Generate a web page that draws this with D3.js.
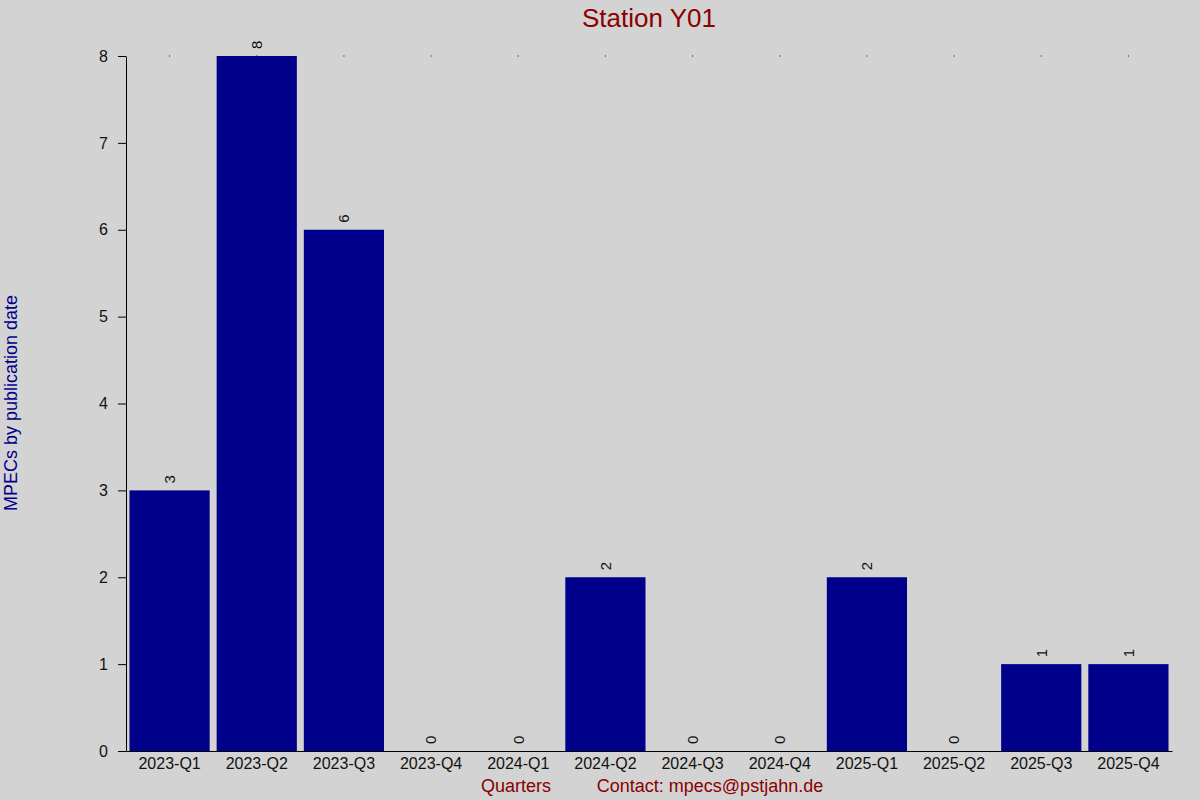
<!DOCTYPE html>
<html>
<head>
<meta charset="utf-8">
<script src="https://cdn.jsdelivr.net/npm/d3@7"></script>
<style>
  body { margin: 0; background: #d3d3d3; }
  text { font-family: "Liberation Sans", Arial, sans-serif; }
</style>
</head>
<body>
<div id="chart"></div>
<script>
const quarters = ["2023-Q1", "2023-Q2", "2023-Q3", "2023-Q4", "2024-Q1", "2024-Q2",
                  "2024-Q3", "2024-Q4", "2025-Q1", "2025-Q2", "2025-Q3", "2025-Q4"];
const counts = [3, 8, 6, 0, 0, 2, 0, 0, 2, 0, 1, 1];
const yTicks = [0, 1, 2, 3, 4, 5, 6, 7, 8];

const W = 1200, H = 800;
const svg = d3.select("#chart")
    .append("svg")
    .attr("width", W)
    .attr("height", H);

svg.append("rect")
    .attr("width", W)
    .attr("height", H)
    .attr("fill", "#d3d3d3");

const x = d3.scaleBand()
    .domain(quarters)
    .range([126, 1172])
    .paddingInner(0.08)
    .paddingOuter(0.04);

const y = d3.scaleLinear()
    .domain([0, 8])
    .range([751, 56]);

// bars
svg.selectAll(".bar")
    .data(quarters)
    .enter()
    .append("rect")
    .attr("class", "bar")
    .attr("x", d => x(d))
    .attr("width", x.bandwidth())
    .attr("y", (d, i) => y(counts[i]))
    .attr("height", (d, i) => y(0) - y(counts[i]))
    .attr("fill", "#00008b");

// value labels, rotated
svg.selectAll(".val")
    .data(quarters)
    .enter()
    .append("text")
    .attr("class", "val")
    .attr("transform", (d, i) => `translate(${x(d) + x.bandwidth() / 2}, ${y(counts[i]) - 7}) rotate(-90)`)
    .attr("dy", "0.35em")
    .attr("text-anchor", "start")
    .style("font-size", "15px")
    .attr("fill", "#111")
    .text((d, i) => counts[i]);

// little dots on the top edge at band centres
svg.selectAll(".dot")
    .data(quarters)
    .enter()
    .append("rect")
    .attr("x", d => x(d) + x.bandwidth() / 2 - 0.5)
    .attr("y", 55.5)
    .attr("width", 1)
    .attr("height", 1)
    .attr("fill", "#000");

// y axis
const yAxis = svg.append("g")
    .attr("transform", "translate(126,0)")
    .call(d3.axisLeft(y).tickValues(yTicks).tickSize(8).tickSizeOuter(0).tickPadding(10));
yAxis.select(".domain").attr("stroke", "#000");
yAxis.selectAll("text").style("font-size", "16px").attr("fill", "#111");

// x axis
const xAxis = svg.append("g")
    .attr("transform", "translate(0,751)")
    .call(d3.axisBottom(x).tickSize(0).tickSizeOuter(0).tickPadding(7));
xAxis.select(".domain").attr("stroke", "#000");
xAxis.selectAll("text").style("font-size", "16px").attr("fill", "#111");

// title
svg.append("text")
    .attr("x", 649)
    .attr("y", 27)
    .attr("text-anchor", "middle")
    .style("font-size", "26px")
    .attr("fill", "#8b0000")
    .text("Station Y01");

// y label
svg.append("text")
    .attr("transform", "translate(17,403) rotate(-90)")
    .attr("text-anchor", "middle")
    .style("font-size", "18px")
    .attr("fill", "#00008b")
    .text("MPECs by publication date");

// bottom labels
svg.append("text")
    .attr("x", 516)
    .attr("y", 792)
    .attr("text-anchor", "middle")
    .style("font-size", "18px")
    .attr("fill", "#8b0000")
    .text("Quarters");

svg.append("text")
    .attr("x", 710)
    .attr("y", 792)
    .attr("text-anchor", "middle")
    .style("font-size", "18px")
    .attr("fill", "#8b0000")
    .text("Contact: mpecs@pstjahn.de");
</script>
</body>
</html>
